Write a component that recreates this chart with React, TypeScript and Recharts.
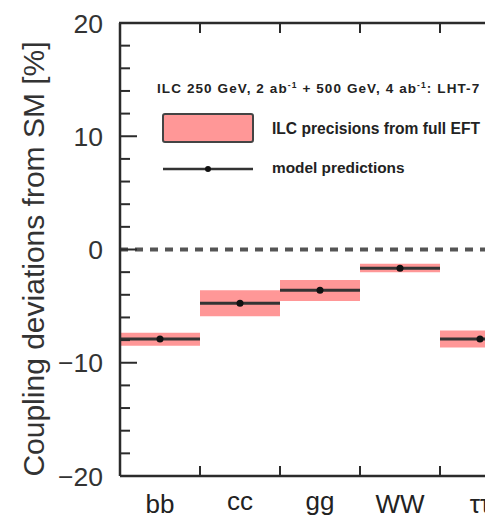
import React from 'react';
import {
  ComposedChart,
  XAxis,
  YAxis,
  ReferenceArea,
  ReferenceLine,
  Scatter,
} from 'recharts';

// Higgs coupling channels along the horizontal axis
const channels = ['bb', 'cc', 'gg', 'WW', 'ττ'];
// Model predictions for each coupling deviation (%)
const predictions = [-7.9, -4.75, -3.6, -1.65, -7.9];
// Lower and upper edges of the ILC precision band around each prediction (%)
const bandLow = [-8.5, -5.9, -4.55, -2.0, -8.65];
const bandHigh = [-7.35, -3.6, -2.7, -1.25, -7.15];
// Vertical axis ticks (major every 10, minor every 2)
const yTicks = [-20, -18, -16, -14, -12, -10, -8, -6, -4, -2, 0, 2, 4, 6, 8, 10, 12, 14, 16, 18, 20];

const INK = '#2b2b2b';
const FONT = '"Liberation Sans", Arial, Helvetica, sans-serif';
const BAND = '#ff9797';

// chart layout
const CHART_W = 530;
const CHART_H = 519;
const MARGIN = { top: 23, right: 10, bottom: 0, left: 0 };
const Y_AXIS_W = 120;
const X_AXIS_H = 43;
const PLOT_LEFT = MARGIN.left + Y_AXIS_W;
const PLOT_W = CHART_W - MARGIN.right - PLOT_LEFT;
const PLOT_TOP = MARGIN.top;

// baseline offset of each channel label below the axis line
const labelDrop: Record<string, number> = { bb: 37, cc: 34, gg: 34, WW: 37, 'ττ': 37 };

const points = channels.map((name, i) => ({ x: i + 0.5, y: predictions[i], name }));

// bottom axis: labels at category centres, separator ticks at boundaries
const bottomTicks: number[] = [];
channels.forEach((_, i) => {
  if (i > 0) bottomTicks.push(i);
  bottomTicks.push(i + 0.5);
});
const boundaries = channels.slice(1).map((_, i) => i + 1);

const fmt = (v: number) => (v < 0 ? `\u2212${Math.abs(v)}` : `${v}`);

const ValueTick = (props: any) => {
  const { x, y, payload } = props;
  const v = payload.value as number;
  const major = v % 10 === 0;
  return (
    <g>
      <line x1={x} x2={x + (major ? 17 : 10)} y1={y} y2={y} stroke={INK} strokeWidth={2} />
      {major && (
        <text x={x - 17} y={y} dy="0.36em" textAnchor="end" fontSize={26.5} fill="#333" fontFamily={FONT}>
          {fmt(v)}
        </text>
      )}
    </g>
  );
};

const CategoryTick = (props: any) => {
  const { x, y, payload } = props;
  const v = payload.value as number;
  if (Number.isInteger(v)) {
    return <line x1={x} x2={x} y1={y} y2={y - 10} stroke={INK} strokeWidth={2} />;
  }
  const name = channels[Math.floor(v)];
  return (
    <text x={x} y={y + (labelDrop[name] ?? 36)} textAnchor="middle" fontSize={26} fill="#222" fontFamily={FONT}>
      {name}
    </text>
  );
};

const Dot = (props: any) => <circle cx={props.cx} cy={props.cy} r={3.5} fill="#111" />;

// top frame, axis title and legend, laid over the chart
const Overlay = () => (
  <svg
    width={485}
    height={519}
    style={{ position: 'absolute', left: 0, top: 0, pointerEvents: 'none' }}
    fontFamily={FONT}
  >
    <line x1={PLOT_LEFT - 1} x2={PLOT_LEFT + PLOT_W} y1={PLOT_TOP} y2={PLOT_TOP} stroke={INK} strokeWidth={2.5} />
    {boundaries.map((b) => {
      const bx = PLOT_LEFT + (PLOT_W * b) / channels.length;
      return <line key={b} x1={bx} x2={bx} y1={PLOT_TOP} y2={PLOT_TOP + 10} stroke={INK} strokeWidth={2} />;
    })}
    <text transform="translate(44,259) rotate(-90)" textAnchor="middle" fontSize={30} fill="#333">
      Coupling deviations from SM [%]
    </text>
    <text x={157} y={93} fontSize={13.5} fontWeight="bold" fill="#222" letterSpacing={1.1}>
      ILC 250 GeV, 2 ab
      <tspan fontSize={8.5} dy={-5}>-1</tspan>
      <tspan dy={5}> + 500 GeV, 4 ab</tspan>
      <tspan fontSize={8.5} dy={-5}>-1</tspan>
      <tspan dy={5}>: LHT-7</tspan>
    </text>
    <rect x={163} y={114} width={90} height={28} rx={2} fill={BAND} stroke="#444" strokeWidth={2} />
    <text x={272} y={134} fontSize={15.6} fontWeight="bold" fill="#222">
      ILC precisions from full EFT
    </text>
    <line x1={163} x2={253} y1={169} y2={169} stroke="#333" strokeWidth={2.5} />
    <circle cx={208} cy={169} r={3} fill="#111" />
    <text x={272} y={173} fontSize={15.4} fontWeight="bold" fill="#222">
      model predictions
    </text>
  </svg>
);

export default function App() {
  return (
    <div style={{ position: 'absolute', left: 0, top: 0, width: 485, height: 519, overflow: 'hidden', background: '#fff' }}>
      <ComposedChart width={CHART_W} height={CHART_H} margin={MARGIN}>
        <XAxis
          xAxisId="cat"
          dataKey="x"
          type="number"
          domain={[0, channels.length]}
          ticks={bottomTicks}
          interval={0}
          height={X_AXIS_H}
          tickSize={0}
          tickMargin={0}
          tickLine={false}
          axisLine={{ stroke: INK, strokeWidth: 2.5 }}
          tick={<CategoryTick />}
        />
        <YAxis
          yAxisId="v"
          type="number"
          domain={[-20, 20]}
          ticks={yTicks}
          interval={0}
          width={Y_AXIS_W}
          tickSize={0}
          tickMargin={0}
          tickLine={false}
          axisLine={{ stroke: INK, strokeWidth: 2.5 }}
          tick={<ValueTick />}
        />
        <ReferenceLine
          xAxisId="cat"
          yAxisId="v"
          y={0}
          stroke="#555"
          strokeWidth={4}
          strokeDasharray="8 7"
        />
        {channels.map((c, i) => (
          <ReferenceArea
            key={`band-${c}`}
            xAxisId="cat"
            yAxisId="v"
            x1={i}
            x2={i + 1}
            y1={bandLow[i]}
            y2={bandHigh[i]}
            fill={BAND}
            fillOpacity={1}
            stroke="none"
            ifOverflow="visible"
          />
        ))}
        {channels.map((c, i) => (
          <ReferenceLine
            key={`pred-${c}`}
            xAxisId="cat"
            yAxisId="v"
            segment={[
              { x: i, y: predictions[i] },
              { x: i + 1, y: predictions[i] },
            ]}
            stroke="#333"
            strokeWidth={3}
            ifOverflow="visible"
          />
        ))}
        <Scatter
          xAxisId="cat"
          yAxisId="v"
          data={points}
          dataKey="y"
          shape={<Dot />}
          isAnimationActive={false}
        />
      </ComposedChart>
      <Overlay />
    </div>
  );
}
